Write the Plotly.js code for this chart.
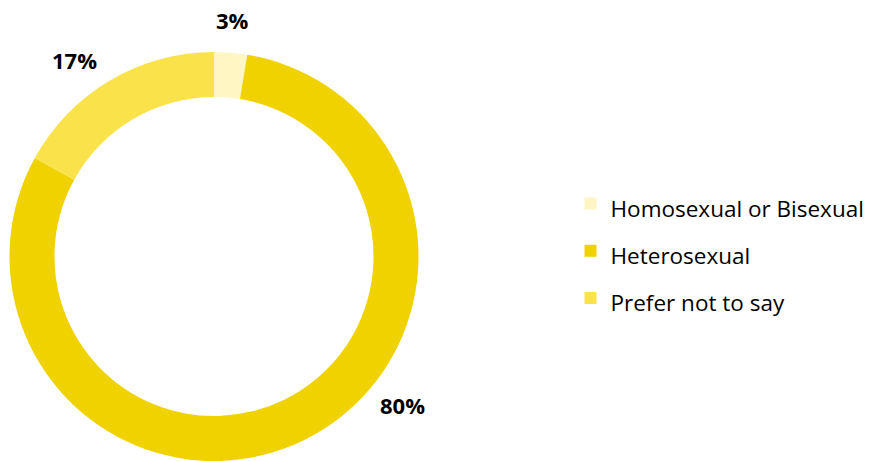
<!DOCTYPE html>
<html>
<head>
<meta charset="utf-8">
<script src="https://cdn.plot.ly/plotly-3.0.1.min.js"></script>
<style>html,body{margin:0;padding:0;background:#fff;}#chart{width:871px;height:461px;}</style>
</head>
<body>
<div id="chart"></div>
<script>
var categories = ["Homosexual or Bisexual", "Heterosexual", "Prefer not to say"];
var values = [2.6, 80.4, 17.0];
var colors = ["#FFF6C4", "#F0D200", "#FAE34A"];
var labelPos = [[232, 20], [402, 405], [74, 60]];

var W = 871, H = 461;
var total = values.reduce(function(a, b){ return a + b; }, 0);

var trace = {
  type: "pie",
  labels: categories.map(function(c){ return '<span style="font-size:22.5px">' + c + '</span>'; }),
  values: values,
  marker: { colors: colors, line: { width: 0 } },
  hole: 0.78,
  sort: false,
  direction: "clockwise",
  rotation: 0,
  textinfo: "none",
  hoverinfo: "label+percent",
  domain: { x: [9 / W, 419 / W], y: [0, 1 - 52 / H] }
};

var annotations = values.map(function(v, i){
  return {
    xref: "paper", yref: "paper",
    x: labelPos[i][0] / W, y: 1 - labelPos[i][1] / H,
    xanchor: "center", yanchor: "middle",
    text: "<b>" + Math.round(v / total * 100) + "%</b>",
    showarrow: false,
    font: { family: "'Open Sans', sans-serif", size: 22, color: "#000" }
  };
});

var layout = {
  width: W, height: H,
  margin: { l: 0, r: 0, t: 0, b: 0 },
  paper_bgcolor: "#fff",
  showlegend: true,
  legend: {
    x: 0.655, y: 1 - 251 / H, xanchor: "left", yanchor: "middle",
    font: { family: "'Open Sans', sans-serif", size: 34, color: "#000" },
    traceorder: "normal"
  },
  annotations: annotations
};

Plotly.newPlot("chart", [trace], layout, { displayModeBar: false, staticPlot: true });
</script>
</body>
</html>
